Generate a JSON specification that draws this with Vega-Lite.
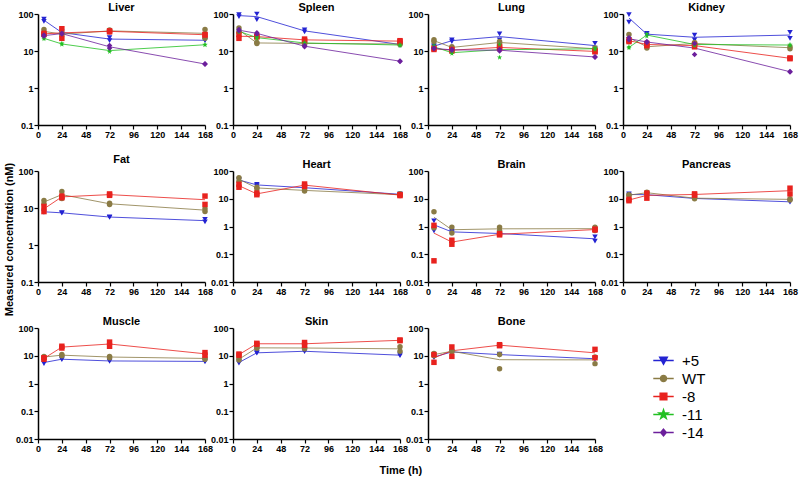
{
"$schema":"https://vega.github.io/schema/vega-lite/v6.json",
"padding":{"left":3,"top":2,"right":5,"bottom":2},
"bounds":"flush",
"columns":4,
"spacing":{"row":46,"column":28},
"title":{"text":"Time (h)","orient":"bottom","anchor":"middle","fontSize":11,"fontWeight":"bold","offset":12},
"config":{"view":{"stroke":null},"font":"Liberation Sans",
 "title":{"fontSize":11,"fontWeight":"bold","offset":-3,"color":"#000"},
 "axis":{"domainColor":"#000","tickColor":"#000","domainWidth":1.5,"tickWidth":1.2,"tickSize":4,"labelFontSize":9,"labelFontWeight":"bold","labelColor":"#000","labelPadding":1,"labelFlush":false,"labelOverlap":false,"grid":false,"titleFontSize":11,"titleFontWeight":"bold","titleColor":"#000"},
 "legend":{"orient":"none","legendX":616,"legendY":337,"labelFontSize":15,"labelColor":"#000","symbolSize":290,"symbolStrokeWidth":1.3,"symbolOpacity":1,"rowPadding":0,"labelOffset":9}
},
"data":{"values":[
{"o":"Liver","g":"+5","t":6,"v":73},{"o":"Liver","g":"+5","t":6,"v":63},{"o":"Liver","g":"+5","t":24,"v":33},{"o":"Liver","g":"+5","t":24,"v":30},{"o":"Liver","g":"+5","t":72,"v":23},{"o":"Liver","g":"+5","t":72,"v":19},{"o":"Liver","g":"+5","t":168,"v":20},{"o":"Liver","g":"+5","t":168,"v":19},
{"o":"Liver","g":"WT","t":6,"v":38},{"o":"Liver","g":"WT","t":6,"v":30},{"o":"Liver","g":"WT","t":24,"v":30},{"o":"Liver","g":"WT","t":24,"v":27},{"o":"Liver","g":"WT","t":72,"v":37},{"o":"Liver","g":"WT","t":72,"v":33},{"o":"Liver","g":"WT","t":168,"v":38},{"o":"Liver","g":"WT","t":168,"v":22},
{"o":"Liver","g":"-8","t":6,"v":30},{"o":"Liver","g":"-8","t":6,"v":28},{"o":"Liver","g":"-8","t":24,"v":40},{"o":"Liver","g":"-8","t":24,"v":22},{"o":"Liver","g":"-8","t":72,"v":35},{"o":"Liver","g":"-8","t":72,"v":33},{"o":"Liver","g":"-8","t":168,"v":28},{"o":"Liver","g":"-8","t":168,"v":27},
{"o":"Liver","g":"-11","t":6,"v":23},{"o":"Liver","g":"-11","t":6,"v":21},{"o":"Liver","g":"-11","t":24,"v":16},{"o":"Liver","g":"-11","t":24,"v":15},{"o":"Liver","g":"-11","t":72,"v":11},{"o":"Liver","g":"-11","t":72,"v":9.5},{"o":"Liver","g":"-11","t":168,"v":15},{"o":"Liver","g":"-11","t":168,"v":14.5},
{"o":"Liver","g":"-14","t":6,"v":27},{"o":"Liver","g":"-14","t":6,"v":25},{"o":"Liver","g":"-14","t":24,"v":30},{"o":"Liver","g":"-14","t":24,"v":29},{"o":"Liver","g":"-14","t":72,"v":14},{"o":"Liver","g":"-14","t":72,"v":12},{"o":"Liver","g":"-14","t":168,"v":4.5},{"o":"Liver","g":"-14","t":168,"v":4.4},
{"o":"Spleen","g":"+5","t":6,"v":96},{"o":"Spleen","g":"+5","t":6,"v":85},{"o":"Spleen","g":"+5","t":24,"v":100},{"o":"Spleen","g":"+5","t":24,"v":70},{"o":"Spleen","g":"+5","t":72,"v":37},{"o":"Spleen","g":"+5","t":72,"v":33},{"o":"Spleen","g":"+5","t":168,"v":16},{"o":"Spleen","g":"+5","t":168,"v":14},
{"o":"Spleen","g":"WT","t":6,"v":42},{"o":"Spleen","g":"WT","t":6,"v":32},{"o":"Spleen","g":"WT","t":24,"v":17},{"o":"Spleen","g":"WT","t":24,"v":16},{"o":"Spleen","g":"WT","t":72,"v":17},{"o":"Spleen","g":"WT","t":72,"v":15},{"o":"Spleen","g":"WT","t":168,"v":16},{"o":"Spleen","g":"WT","t":168,"v":15},
{"o":"Spleen","g":"-8","t":6,"v":28},{"o":"Spleen","g":"-8","t":6,"v":22},{"o":"Spleen","g":"-8","t":24,"v":25},{"o":"Spleen","g":"-8","t":24,"v":24},{"o":"Spleen","g":"-8","t":72,"v":21},{"o":"Spleen","g":"-8","t":72,"v":19},{"o":"Spleen","g":"-8","t":168,"v":19},{"o":"Spleen","g":"-8","t":168,"v":18},
{"o":"Spleen","g":"-11","t":6,"v":36},{"o":"Spleen","g":"-11","t":6,"v":32},{"o":"Spleen","g":"-11","t":24,"v":24},{"o":"Spleen","g":"-11","t":24,"v":22},{"o":"Spleen","g":"-11","t":72,"v":17},{"o":"Spleen","g":"-11","t":72,"v":16},{"o":"Spleen","g":"-11","t":168,"v":15},{"o":"Spleen","g":"-11","t":168,"v":14},
{"o":"Spleen","g":"-14","t":6,"v":38},{"o":"Spleen","g":"-14","t":6,"v":35},{"o":"Spleen","g":"-14","t":24,"v":31},{"o":"Spleen","g":"-14","t":24,"v":29},{"o":"Spleen","g":"-14","t":72,"v":14},{"o":"Spleen","g":"-14","t":72,"v":13},{"o":"Spleen","g":"-14","t":168,"v":5.4},{"o":"Spleen","g":"-14","t":168,"v":5.2},
{"o":"Lung","g":"+5","t":6,"v":14},{"o":"Lung","g":"+5","t":6,"v":13},{"o":"Lung","g":"+5","t":24,"v":20},{"o":"Lung","g":"+5","t":24,"v":18},{"o":"Lung","g":"+5","t":72,"v":29},{"o":"Lung","g":"+5","t":72,"v":20},{"o":"Lung","g":"+5","t":168,"v":16},{"o":"Lung","g":"+5","t":168,"v":12},
{"o":"Lung","g":"WT","t":6,"v":20},{"o":"Lung","g":"WT","t":6,"v":18},{"o":"Lung","g":"WT","t":24,"v":13},{"o":"Lung","g":"WT","t":24,"v":12},{"o":"Lung","g":"WT","t":72,"v":18},{"o":"Lung","g":"WT","t":72,"v":16},{"o":"Lung","g":"WT","t":168,"v":12},{"o":"Lung","g":"WT","t":168,"v":11},
{"o":"Lung","g":"-8","t":6,"v":12},{"o":"Lung","g":"-8","t":6,"v":11},{"o":"Lung","g":"-8","t":24,"v":11},{"o":"Lung","g":"-8","t":24,"v":10},{"o":"Lung","g":"-8","t":72,"v":13},{"o":"Lung","g":"-8","t":72,"v":12},{"o":"Lung","g":"-8","t":168,"v":10},{"o":"Lung","g":"-8","t":168,"v":9.5},
{"o":"Lung","g":"-11","t":6,"v":14},{"o":"Lung","g":"-11","t":6,"v":12},{"o":"Lung","g":"-11","t":24,"v":9.5},{"o":"Lung","g":"-11","t":24,"v":8.5},{"o":"Lung","g":"-11","t":72,"v":15},{"o":"Lung","g":"-11","t":72,"v":6.7},{"o":"Lung","g":"-11","t":168,"v":12},{"o":"Lung","g":"-11","t":168,"v":11},
{"o":"Lung","g":"-14","t":6,"v":12},{"o":"Lung","g":"-14","t":6,"v":11.5},{"o":"Lung","g":"-14","t":24,"v":11},{"o":"Lung","g":"-14","t":24,"v":10.5},{"o":"Lung","g":"-14","t":72,"v":11},{"o":"Lung","g":"-14","t":72,"v":10},{"o":"Lung","g":"-14","t":168,"v":7},{"o":"Lung","g":"-14","t":168,"v":6.8},
{"o":"Kidney","g":"+5","t":6,"v":96},{"o":"Kidney","g":"+5","t":6,"v":60},{"o":"Kidney","g":"+5","t":24,"v":30},{"o":"Kidney","g":"+5","t":24,"v":27},{"o":"Kidney","g":"+5","t":72,"v":27},{"o":"Kidney","g":"+5","t":72,"v":20},{"o":"Kidney","g":"+5","t":168,"v":32},{"o":"Kidney","g":"+5","t":168,"v":22},
{"o":"Kidney","g":"WT","t":6,"v":28},{"o":"Kidney","g":"WT","t":6,"v":18},{"o":"Kidney","g":"WT","t":24,"v":14},{"o":"Kidney","g":"WT","t":24,"v":12},{"o":"Kidney","g":"WT","t":72,"v":17},{"o":"Kidney","g":"WT","t":72,"v":15},{"o":"Kidney","g":"WT","t":168,"v":13},{"o":"Kidney","g":"WT","t":168,"v":11.5},
{"o":"Kidney","g":"-8","t":6,"v":20},{"o":"Kidney","g":"-8","t":6,"v":18},{"o":"Kidney","g":"-8","t":24,"v":16},{"o":"Kidney","g":"-8","t":24,"v":14},{"o":"Kidney","g":"-8","t":72,"v":15},{"o":"Kidney","g":"-8","t":72,"v":13},{"o":"Kidney","g":"-8","t":168,"v":6.5},{"o":"Kidney","g":"-8","t":168,"v":6.2},
{"o":"Kidney","g":"-11","t":6,"v":13},{"o":"Kidney","g":"-11","t":6,"v":12},{"o":"Kidney","g":"-11","t":24,"v":29},{"o":"Kidney","g":"-11","t":24,"v":25},{"o":"Kidney","g":"-11","t":72,"v":16},{"o":"Kidney","g":"-11","t":72,"v":14},{"o":"Kidney","g":"-11","t":168,"v":15},{"o":"Kidney","g":"-11","t":168,"v":14},
{"o":"Kidney","g":"-14","t":6,"v":23},{"o":"Kidney","g":"-14","t":6,"v":20},{"o":"Kidney","g":"-14","t":24,"v":18},{"o":"Kidney","g":"-14","t":24,"v":17},{"o":"Kidney","g":"-14","t":72,"v":16},{"o":"Kidney","g":"-14","t":72,"v":8},{"o":"Kidney","g":"-14","t":168,"v":2.8},{"o":"Kidney","g":"-14","t":168,"v":2.7},
{"o":"Fat","g":"+5","t":6,"v":8.2},{"o":"Fat","g":"+5","t":6,"v":7.6},{"o":"Fat","g":"+5","t":24,"v":7.5},{"o":"Fat","g":"+5","t":24,"v":7.3},{"o":"Fat","g":"+5","t":72,"v":5.8},{"o":"Fat","g":"+5","t":72,"v":5.6},{"o":"Fat","g":"+5","t":168,"v":4.9},{"o":"Fat","g":"+5","t":168,"v":4.2},
{"o":"Fat","g":"WT","t":6,"v":16},{"o":"Fat","g":"WT","t":6,"v":13},{"o":"Fat","g":"WT","t":24,"v":28},{"o":"Fat","g":"WT","t":24,"v":18},{"o":"Fat","g":"WT","t":72,"v":13.5},{"o":"Fat","g":"WT","t":72,"v":12.5},{"o":"Fat","g":"WT","t":168,"v":9.5},{"o":"Fat","g":"WT","t":168,"v":8},
{"o":"Fat","g":"-8","t":6,"v":11},{"o":"Fat","g":"-8","t":6,"v":8},{"o":"Fat","g":"-8","t":24,"v":21},{"o":"Fat","g":"-8","t":24,"v":19},{"o":"Fat","g":"-8","t":72,"v":24},{"o":"Fat","g":"-8","t":72,"v":22},{"o":"Fat","g":"-8","t":168,"v":21},{"o":"Fat","g":"-8","t":168,"v":12.5},
{"o":"Heart","g":"+5","t":6,"v":50},{"o":"Heart","g":"+5","t":6,"v":45},{"o":"Heart","g":"+5","t":24,"v":33},{"o":"Heart","g":"+5","t":24,"v":30},{"o":"Heart","g":"+5","t":72,"v":26},{"o":"Heart","g":"+5","t":72,"v":24},{"o":"Heart","g":"+5","t":168,"v":15},{"o":"Heart","g":"+5","t":168,"v":14},
{"o":"Heart","g":"WT","t":6,"v":57},{"o":"Heart","g":"WT","t":6,"v":43},{"o":"Heart","g":"WT","t":24,"v":26},{"o":"Heart","g":"WT","t":24,"v":23},{"o":"Heart","g":"WT","t":72,"v":21},{"o":"Heart","g":"WT","t":72,"v":19},{"o":"Heart","g":"WT","t":168,"v":15},{"o":"Heart","g":"WT","t":168,"v":13},
{"o":"Heart","g":"-8","t":6,"v":33},{"o":"Heart","g":"-8","t":6,"v":26},{"o":"Heart","g":"-8","t":24,"v":16},{"o":"Heart","g":"-8","t":24,"v":14},{"o":"Heart","g":"-8","t":72,"v":34},{"o":"Heart","g":"-8","t":72,"v":28},{"o":"Heart","g":"-8","t":168,"v":14},{"o":"Heart","g":"-8","t":168,"v":13},
{"o":"Brain","g":"+5","t":6,"v":1.6},{"o":"Brain","g":"+5","t":6,"v":0.7},{"o":"Brain","g":"+5","t":24,"v":0.68},{"o":"Brain","g":"+5","t":24,"v":0.6},{"o":"Brain","g":"+5","t":72,"v":0.6},{"o":"Brain","g":"+5","t":72,"v":0.52},{"o":"Brain","g":"+5","t":168,"v":0.42},{"o":"Brain","g":"+5","t":168,"v":0.3},
{"o":"Brain","g":"WT","t":6,"v":3.4},{"o":"Brain","g":"WT","t":6,"v":0.9},{"o":"Brain","g":"WT","t":24,"v":0.95},{"o":"Brain","g":"WT","t":24,"v":0.58},{"o":"Brain","g":"WT","t":72,"v":0.95},{"o":"Brain","g":"WT","t":72,"v":0.7},{"o":"Brain","g":"WT","t":168,"v":0.95},{"o":"Brain","g":"WT","t":168,"v":0.72},
{"o":"Brain","g":"-8","t":6,"v":1.1},{"o":"Brain","g":"-8","t":6,"v":0.058},{"o":"Brain","g":"-8","t":24,"v":0.32},{"o":"Brain","g":"-8","t":24,"v":0.23},{"o":"Brain","g":"-8","t":72,"v":0.55},{"o":"Brain","g":"-8","t":72,"v":0.5},{"o":"Brain","g":"-8","t":168,"v":0.8},{"o":"Brain","g":"-8","t":168,"v":0.75},
{"o":"Pancreas","g":"+5","t":6,"v":15},{"o":"Pancreas","g":"+5","t":6,"v":13.5},{"o":"Pancreas","g":"+5","t":24,"v":14.5},{"o":"Pancreas","g":"+5","t":24,"v":13.5},{"o":"Pancreas","g":"+5","t":72,"v":10.5},{"o":"Pancreas","g":"+5","t":72,"v":10},{"o":"Pancreas","g":"+5","t":168,"v":8},{"o":"Pancreas","g":"+5","t":168,"v":7.5},
{"o":"Pancreas","g":"WT","t":6,"v":14},{"o":"Pancreas","g":"WT","t":6,"v":13},{"o":"Pancreas","g":"WT","t":24,"v":17},{"o":"Pancreas","g":"WT","t":24,"v":16},{"o":"Pancreas","g":"WT","t":72,"v":11},{"o":"Pancreas","g":"WT","t":72,"v":10},{"o":"Pancreas","g":"WT","t":168,"v":10},{"o":"Pancreas","g":"WT","t":168,"v":9},
{"o":"Pancreas","g":"-8","t":6,"v":9.5},{"o":"Pancreas","g":"-8","t":6,"v":8.5},{"o":"Pancreas","g":"-8","t":24,"v":16},{"o":"Pancreas","g":"-8","t":24,"v":10.5},{"o":"Pancreas","g":"-8","t":72,"v":15},{"o":"Pancreas","g":"-8","t":72,"v":13.5},{"o":"Pancreas","g":"-8","t":168,"v":24},{"o":"Pancreas","g":"-8","t":168,"v":15},
{"o":"Muscle","g":"+5","t":6,"v":6.2},{"o":"Muscle","g":"+5","t":6,"v":5.2},{"o":"Muscle","g":"+5","t":24,"v":7.8},{"o":"Muscle","g":"+5","t":24,"v":7.2},{"o":"Muscle","g":"+5","t":72,"v":6.7},{"o":"Muscle","g":"+5","t":72,"v":6.3},{"o":"Muscle","g":"+5","t":168,"v":6.5},{"o":"Muscle","g":"+5","t":168,"v":6},
{"o":"Muscle","g":"WT","t":6,"v":9.5},{"o":"Muscle","g":"WT","t":6,"v":8.5},{"o":"Muscle","g":"WT","t":24,"v":11},{"o":"Muscle","g":"WT","t":24,"v":10},{"o":"Muscle","g":"WT","t":72,"v":9.5},{"o":"Muscle","g":"WT","t":72,"v":8.5},{"o":"Muscle","g":"WT","t":168,"v":8.5},{"o":"Muscle","g":"WT","t":168,"v":7.5},
{"o":"Muscle","g":"-8","t":6,"v":8.5},{"o":"Muscle","g":"-8","t":6,"v":7.5},{"o":"Muscle","g":"-8","t":24,"v":22},{"o":"Muscle","g":"-8","t":24,"v":19},{"o":"Muscle","g":"-8","t":72,"v":31},{"o":"Muscle","g":"-8","t":72,"v":22},{"o":"Muscle","g":"-8","t":168,"v":13},{"o":"Muscle","g":"-8","t":168,"v":10.5},
{"o":"Skin","g":"+5","t":6,"v":6},{"o":"Skin","g":"+5","t":6,"v":5.4},{"o":"Skin","g":"+5","t":24,"v":13},{"o":"Skin","g":"+5","t":24,"v":12.5},{"o":"Skin","g":"+5","t":72,"v":15},{"o":"Skin","g":"+5","t":72,"v":14},{"o":"Skin","g":"+5","t":168,"v":11},{"o":"Skin","g":"+5","t":168,"v":10},
{"o":"Skin","g":"WT","t":6,"v":8},{"o":"Skin","g":"WT","t":6,"v":7},{"o":"Skin","g":"WT","t":24,"v":20},{"o":"Skin","g":"WT","t":24,"v":18.5},{"o":"Skin","g":"WT","t":72,"v":20},{"o":"Skin","g":"WT","t":72,"v":18},{"o":"Skin","g":"WT","t":168,"v":21},{"o":"Skin","g":"WT","t":168,"v":14.5},
{"o":"Skin","g":"-8","t":6,"v":11.5},{"o":"Skin","g":"-8","t":6,"v":10.5},{"o":"Skin","g":"-8","t":24,"v":28},{"o":"Skin","g":"-8","t":24,"v":26},{"o":"Skin","g":"-8","t":72,"v":30},{"o":"Skin","g":"-8","t":72,"v":24},{"o":"Skin","g":"-8","t":168,"v":37},{"o":"Skin","g":"-8","t":168,"v":35},
{"o":"Bone","g":"+5","t":6,"v":9.5},{"o":"Bone","g":"+5","t":6,"v":8.5},{"o":"Bone","g":"+5","t":24,"v":14},{"o":"Bone","g":"+5","t":24,"v":13.5},{"o":"Bone","g":"+5","t":72,"v":11.5},{"o":"Bone","g":"+5","t":72,"v":10.5},{"o":"Bone","g":"+5","t":168,"v":8},{"o":"Bone","g":"+5","t":168,"v":7.6},
{"o":"Bone","g":"WT","t":6,"v":12},{"o":"Bone","g":"WT","t":6,"v":10},{"o":"Bone","g":"WT","t":24,"v":15},{"o":"Bone","g":"WT","t":24,"v":14},{"o":"Bone","g":"WT","t":72,"v":11},{"o":"Bone","g":"WT","t":72,"v":3.4},{"o":"Bone","g":"WT","t":168,"v":9},{"o":"Bone","g":"WT","t":168,"v":5.2},
{"o":"Bone","g":"-8","t":6,"v":11},{"o":"Bone","g":"-8","t":6,"v":5.8},{"o":"Bone","g":"-8","t":24,"v":20.7},{"o":"Bone","g":"-8","t":24,"v":9.5},{"o":"Bone","g":"-8","t":72,"v":25},{"o":"Bone","g":"-8","t":72,"v":23},{"o":"Bone","g":"-8","t":168,"v":17},{"o":"Bone","g":"-8","t":168,"v":8.5}
]},
"concat":[
{"title":"Liver","width":167,"height":111,"transform":[{"filter":"datum.o==='Liver'"}],
 "encoding":{"x":{"field":"t","type":"quantitative","scale":{"domain":[0,168],"nice":false},"axis":{"values":[0,24,48,72,96,120,144,168],"title":null}},"color":{"field":"g","type":"nominal","scale":{"domain":["+5","WT","-8","-11","-14"],"range":["#2323d2","#8a7b45","#e8221e","#22c022","#6c1f9c"]},"legend":null}},
 "layer":[
  {"mark":{"type":"line","strokeWidth":1,"opacity":0.8},"encoding":{"y":{"aggregate":"mean","field":"v","type":"quantitative","scale":{"type":"log","domain":[0.1,100],"nice":false},"axis":{"values":[0.1,1,10,100],"format":"~g","title":null}}}},
  {"mark":{"type":"point","filled":true,"size":30,"opacity":1},"encoding":{"y":{"field":"v","type":"quantitative"},"shape":{"field":"g","type":"nominal","scale":{"domain":["+5","WT","-8","-11","-14"],"range":["triangle-down","circle","square","M0,-1L0.2245,-0.309L0.951,-0.309L0.363,0.118L0.588,0.809L0,0.382L-0.588,0.809L-0.363,0.118L-0.951,-0.309L-0.2245,-0.309Z","diamond"]},"legend":null}}},
  {"mark":{"type":"point","filled":true,"size":290,"opacity":0,"strokeWidth":1.3},"encoding":{"y":{"field":"v","type":"quantitative"},
    "fill":{"field":"g","type":"nominal","title":null,"scale":{"domain":["+5","WT","-8","-11","-14"],"range":["#2323d2","#8a7b45","#e8221e","#22c022","#6c1f9c"]}},
    "stroke":{"field":"g","type":"nominal","title":null,"scale":{"domain":["+5","WT","-8","-11","-14"],"range":["#2323d2","#8a7b45","#e8221e","#22c022","#6c1f9c"]}},
    "shape":{"field":"g","type":"nominal","title":null,"scale":{"domain":["+5","WT","-8","-11","-14"],"range":["M-1.2,0H1.2M-0.46,-0.38L0.46,-0.38L0,0.46Z","M-1.2,0H1.2M0.36,0A0.36,0.36,0,1,1,-0.36,0A0.36,0.36,0,1,1,0.36,0Z","M-1.2,0H1.2M-0.4,-0.4H0.4V0.4H-0.4Z","M-1.2,0H1.2M0,-0.58L0.13,-0.18L0.55,-0.18L0.21,0.068L0.34,0.47L0,0.22L-0.34,0.47L-0.21,0.068L-0.55,-0.18L-0.13,-0.18Z","M-1.2,0H1.2M0,-0.4L0.34,0L0,0.4L-0.34,0Z"]}}}}
 ],
 "resolve":{"scale":{"shape":"independent","fill":"independent","stroke":"independent"}}},
{"title":"Spleen","width":167,"height":111,"transform":[{"filter":"datum.o==='Spleen'"}],
 "encoding":{"x":{"field":"t","type":"quantitative","scale":{"domain":[0,168],"nice":false},"axis":{"values":[0,24,48,72,96,120,144,168],"title":null}},"color":{"field":"g","type":"nominal","legend":null}},
 "layer":[
  {"mark":{"type":"line","strokeWidth":1,"opacity":0.8},"encoding":{"y":{"aggregate":"mean","field":"v","type":"quantitative","scale":{"type":"log","domain":[0.1,100],"nice":false},"axis":{"values":[0.1,1,10,100],"format":"~g","title":null}}}},
  {"mark":{"type":"point","filled":true,"size":30,"opacity":1},"encoding":{"y":{"field":"v","type":"quantitative"},"shape":{"field":"g","type":"nominal","scale":{"domain":["+5","WT","-8","-11","-14"],"range":["triangle-down","circle","square","M0,-1L0.2245,-0.309L0.951,-0.309L0.363,0.118L0.588,0.809L0,0.382L-0.588,0.809L-0.363,0.118L-0.951,-0.309L-0.2245,-0.309Z","diamond"]},"legend":null}}}
 ]},
{"title":"Lung","width":167,"height":111,"transform":[{"filter":"datum.o==='Lung'"}],
 "encoding":{"x":{"field":"t","type":"quantitative","scale":{"domain":[0,168],"nice":false},"axis":{"values":[0,24,48,72,96,120,144,168],"title":null}},"color":{"field":"g","type":"nominal","legend":null}},
 "layer":[
  {"mark":{"type":"line","strokeWidth":1,"opacity":0.8},"encoding":{"y":{"aggregate":"mean","field":"v","type":"quantitative","scale":{"type":"log","domain":[0.1,100],"nice":false},"axis":{"values":[0.1,1,10,100],"format":"~g","title":null}}}},
  {"mark":{"type":"point","filled":true,"size":30,"opacity":1},"encoding":{"y":{"field":"v","type":"quantitative"},"shape":{"field":"g","type":"nominal","legend":null}}}
 ]},
{"title":"Kidney","width":167,"height":111,"transform":[{"filter":"datum.o==='Kidney'"}],
 "encoding":{"x":{"field":"t","type":"quantitative","scale":{"domain":[0,168],"nice":false},"axis":{"values":[0,24,48,72,96,120,144,168],"title":null}},"color":{"field":"g","type":"nominal","legend":null}},
 "layer":[
  {"mark":{"type":"line","strokeWidth":1,"opacity":0.8},"encoding":{"y":{"aggregate":"mean","field":"v","type":"quantitative","scale":{"type":"log","domain":[0.1,100],"nice":false},"axis":{"values":[0.1,1,10,100],"format":"~g","title":null}}}},
  {"mark":{"type":"point","filled":true,"size":30,"opacity":1},"encoding":{"y":{"field":"v","type":"quantitative"},"shape":{"field":"g","type":"nominal","legend":null}}}
 ]},
{"title":"Fat","width":167,"height":111,"transform":[{"filter":"datum.o==='Fat'"}],
 "encoding":{"x":{"field":"t","type":"quantitative","scale":{"domain":[0,168],"nice":false},"axis":{"values":[0,24,48,72,96,120,144,168],"title":null}},"color":{"field":"g","type":"nominal","legend":null}},
 "layer":[
  {"mark":{"type":"line","strokeWidth":1,"opacity":0.8},"encoding":{"y":{"aggregate":"mean","field":"v","type":"quantitative","scale":{"type":"log","domain":[0.1,100],"nice":false},"axis":{"values":[0.1,1,10,100],"format":"~g","title":"Measured concentration (nM)","titleY":68,"titlePadding":3}}}},
  {"mark":{"type":"point","filled":true,"size":30,"opacity":1},"encoding":{"y":{"field":"v","type":"quantitative"},"shape":{"field":"g","type":"nominal","legend":null}}}
 ]},
{"title":"Heart","width":167,"height":111,"transform":[{"filter":"datum.o==='Heart'"}],
 "encoding":{"x":{"field":"t","type":"quantitative","scale":{"domain":[0,168],"nice":false},"axis":{"values":[0,24,48,72,96,120,144,168],"title":null}},"color":{"field":"g","type":"nominal","legend":null}},
 "layer":[
  {"mark":{"type":"line","strokeWidth":1,"opacity":0.8},"encoding":{"y":{"aggregate":"mean","field":"v","type":"quantitative","scale":{"type":"log","domain":[0.01,100],"nice":false},"axis":{"values":[0.01,0.1,1,10,100],"format":"~g","title":null}}}},
  {"mark":{"type":"point","filled":true,"size":30,"opacity":1},"encoding":{"y":{"field":"v","type":"quantitative"},"shape":{"field":"g","type":"nominal","legend":null}}}
 ]},
{"title":"Brain","width":167,"height":111,"transform":[{"filter":"datum.o==='Brain'"}],
 "encoding":{"x":{"field":"t","type":"quantitative","scale":{"domain":[0,168],"nice":false},"axis":{"values":[0,24,48,72,96,120,144,168],"title":null}},"color":{"field":"g","type":"nominal","legend":null}},
 "layer":[
  {"mark":{"type":"line","strokeWidth":1,"opacity":0.8},"encoding":{"y":{"aggregate":"mean","field":"v","type":"quantitative","scale":{"type":"log","domain":[0.01,100],"nice":false},"axis":{"values":[0.01,0.1,1,10,100],"format":"~g","title":null}}}},
  {"mark":{"type":"point","filled":true,"size":30,"opacity":1},"encoding":{"y":{"field":"v","type":"quantitative"},"shape":{"field":"g","type":"nominal","legend":null}}}
 ]},
{"title":"Pancreas","width":167,"height":111,"transform":[{"filter":"datum.o==='Pancreas'"}],
 "encoding":{"x":{"field":"t","type":"quantitative","scale":{"domain":[0,168],"nice":false},"axis":{"values":[0,24,48,72,96,120,144,168],"title":null}},"color":{"field":"g","type":"nominal","legend":null}},
 "layer":[
  {"mark":{"type":"line","strokeWidth":1,"opacity":0.8},"encoding":{"y":{"aggregate":"mean","field":"v","type":"quantitative","scale":{"type":"log","domain":[0.01,100],"nice":false},"axis":{"values":[0.01,0.1,1,10,100],"format":"~g","title":null}}}},
  {"mark":{"type":"point","filled":true,"size":30,"opacity":1},"encoding":{"y":{"field":"v","type":"quantitative"},"shape":{"field":"g","type":"nominal","legend":null}}}
 ]},
{"title":"Muscle","width":167,"height":111,"transform":[{"filter":"datum.o==='Muscle'"}],
 "encoding":{"x":{"field":"t","type":"quantitative","scale":{"domain":[0,168],"nice":false},"axis":{"values":[0,24,48,72,96,120,144,168],"title":null}},"color":{"field":"g","type":"nominal","legend":null}},
 "layer":[
  {"mark":{"type":"line","strokeWidth":1,"opacity":0.8},"encoding":{"y":{"aggregate":"mean","field":"v","type":"quantitative","scale":{"type":"log","domain":[0.01,100],"nice":false},"axis":{"values":[0.01,0.1,1,10,100],"format":"~g","title":null}}}},
  {"mark":{"type":"point","filled":true,"size":30,"opacity":1},"encoding":{"y":{"field":"v","type":"quantitative"},"shape":{"field":"g","type":"nominal","legend":null}}}
 ]},
{"title":"Skin","width":167,"height":111,"transform":[{"filter":"datum.o==='Skin'"}],
 "encoding":{"x":{"field":"t","type":"quantitative","scale":{"domain":[0,168],"nice":false},"axis":{"values":[0,24,48,72,96,120,144,168],"title":null}},"color":{"field":"g","type":"nominal","legend":null}},
 "layer":[
  {"mark":{"type":"line","strokeWidth":1,"opacity":0.8},"encoding":{"y":{"aggregate":"mean","field":"v","type":"quantitative","scale":{"type":"log","domain":[0.01,100],"nice":false},"axis":{"values":[0.01,0.1,1,10,100],"format":"~g","title":null}}}},
  {"mark":{"type":"point","filled":true,"size":30,"opacity":1},"encoding":{"y":{"field":"v","type":"quantitative"},"shape":{"field":"g","type":"nominal","legend":null}}}
 ]},
{"title":"Bone","width":167,"height":111,"transform":[{"filter":"datum.o==='Bone'"}],
 "encoding":{"x":{"field":"t","type":"quantitative","scale":{"domain":[0,168],"nice":false},"axis":{"values":[0,24,48,72,96,120,144,168],"title":null}},"color":{"field":"g","type":"nominal","legend":null}},
 "layer":[
  {"mark":{"type":"line","strokeWidth":1,"opacity":0.8},"encoding":{"y":{"aggregate":"mean","field":"v","type":"quantitative","scale":{"type":"log","domain":[0.01,100],"nice":false},"axis":{"values":[0.01,0.1,1,10,100],"format":"~g","title":null}}}},
  {"mark":{"type":"point","filled":true,"size":30,"opacity":1},"encoding":{"y":{"field":"v","type":"quantitative"},"shape":{"field":"g","type":"nominal","legend":null}}}
 ]}
]
}
